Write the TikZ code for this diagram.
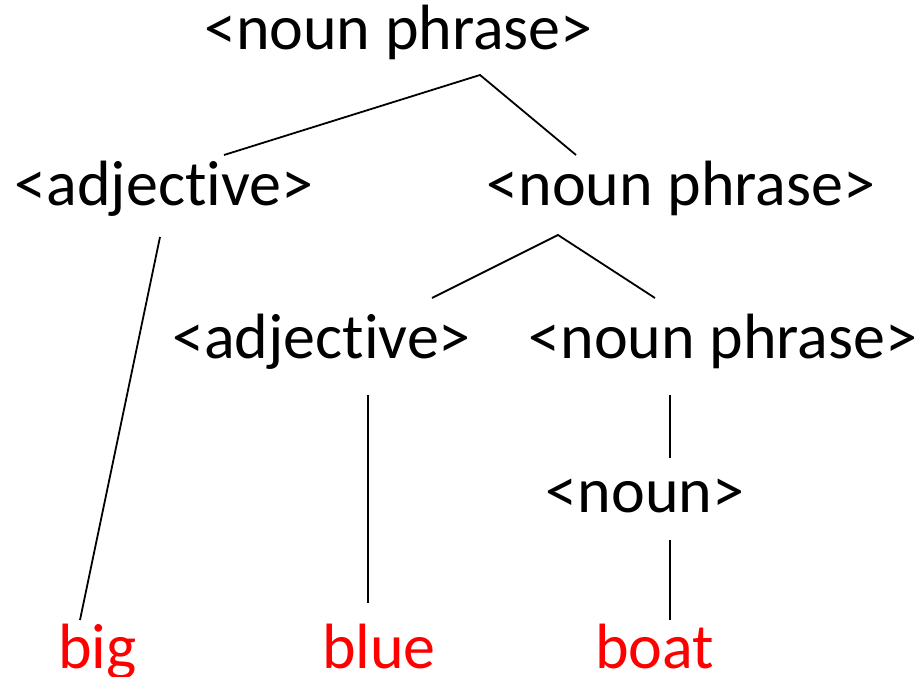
\documentclass[tikz,border=0pt]{standalone}
\usepackage{fontspec}
\setmainfont{Carlito}[RawFeature={-liga;-clig;-dlig}]
% keep "t" and "i" as separate glyphs
\newcommand{\adjword}{<adjec\kern0pt t\kern0pt ive>}
\begin{document}
\begin{tikzpicture}[x=1pt,y=-1pt,
  word/.style={anchor=base,inner sep=0pt,font=\fontsize{64}{77}\selectfont},
  leaf/.style={word,text=red},
  branch/.style={line width=1.8pt,black}]
\useasboundingbox (0,0) rectangle (921,677);
% category labels
\node[word] (np1) at (398.5,50) {<noun phrase>};
\node[word] (adj1) at (164,205) {\adjword};
\node[word] (np2) at (681,205) {<noun phrase>};
\node[word] (adj2) at (321.5,358) {\adjword};
\node[word] (np3) at (723,358) {<noun phrase>};
\node[word] (noun) at (645,512) {<noun>};
% terminal words
\node[leaf] (big) at (97.5,668) {big};
\node[leaf] (blue) at (379,668) {blue};
\node[leaf] (boat) at (654.5,668) {boat};
% branch end points
\coordinate (np1b) at (480,75);
\coordinate (adj1t) at (224,155);
\coordinate (np2t) at (576,155);
\coordinate (adj1b) at (160,237);
\coordinate (bigt) at (80,620);
\coordinate (np2b) at (558,235);
\coordinate (adj2t) at (432,298);
\coordinate (np3t) at (655,298);
\coordinate (adj2b) at (368,395);
\coordinate (bluet) at (368,603);
\coordinate (np3b) at (670,395);
\coordinate (nount) at (670,458);
\coordinate (nounb) at (670,540);
\coordinate (boatt) at (670,620);
% branches
\draw[branch] (adj1t) -- (np1b) -- (np2t);
\draw[branch] (adj1b) -- (bigt);
\draw[branch] (adj2t) -- (np2b) -- (np3t);
\draw[branch] (adj2b) -- (bluet);
\draw[branch] (np3b) -- (nount);
\draw[branch] (nounb) -- (boatt);
\end{tikzpicture}
\end{document}
